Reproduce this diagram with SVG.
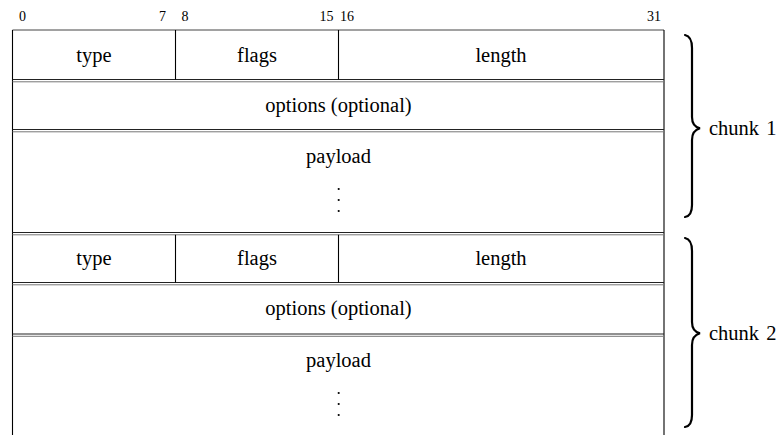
<svg xmlns="http://www.w3.org/2000/svg" width="783" height="435" viewBox="0 0 783 435">
  <style>
    .lbl { font-family: "Liberation Serif", "Times New Roman", serif; font-size: 20.5px; fill: #000; text-anchor: middle; }
    .bit { font-family: "Liberation Serif", "Times New Roman", serif; font-size: 14px; fill: #000; }
    .side { font-family: "Liberation Serif", "Times New Roman", serif; font-size: 20.5px; fill: #000; word-spacing: 2px; }
    .edge { stroke: #000; stroke-width: 1.1; fill: none; }
    .top { stroke: #444; stroke-width: 1; fill: none; }
    .sepA { stroke: #222; stroke-width: 1; fill: none; }
    .sepB { stroke: #777; stroke-width: 1; fill: none; }
    .brace { stroke: #000; stroke-width: 2.2; fill: none; stroke-linecap: round; }
  </style>
  <defs>
    <g id="vdots">
      <circle cx="0" cy="0" r="1.1" fill="#000"/>
      <circle cx="0" cy="11" r="1.1" fill="#000"/>
      <circle cx="0" cy="22" r="1.1" fill="#000"/>
    </g>
  </defs>
  <rect width="783" height="435" fill="#fff"/>

  <!-- bit positions -->
  <g id="bit-ruler">
    <text class="bit" x="19" y="21">0</text>
    <text class="bit" x="166" y="21" text-anchor="end">7</text>
    <text class="bit" x="181.5" y="21">8</text>
    <text class="bit" x="333.5" y="21" text-anchor="end">15</text>
    <text class="bit" x="340" y="21">16</text>
    <text class="bit" x="661" y="21" text-anchor="end">31</text>
  </g>

  <!-- outer frame -->
  <g id="frame">
    <line class="top" x1="12.5" y1="30" x2="664" y2="30"/>
    <line class="edge" x1="12.5" y1="30" x2="12.5" y2="435"/>
    <line class="edge" x1="664" y1="30" x2="664" y2="435"/>
  </g>

  <!-- row separators (double rules) -->
  <g id="separators">
    <line class="sepA" x1="12.5" y1="79.5" x2="664" y2="79.5"/>
    <line class="sepB" x1="12.5" y1="81.8" x2="664" y2="81.8"/>
    <line class="sepA" x1="12.5" y1="129.5" x2="664" y2="129.5"/>
    <line class="sepB" x1="12.5" y1="131.8" x2="664" y2="131.8"/>
    <line class="sepA" x1="12.5" y1="232.5" x2="664" y2="232.5"/>
    <line class="sepB" x1="12.5" y1="234.8" x2="664" y2="234.8"/>
    <line class="sepA" x1="12.5" y1="282.5" x2="664" y2="282.5"/>
    <line class="sepB" x1="12.5" y1="284.8" x2="664" y2="284.8"/>
    <line class="sepA" x1="12.5" y1="334" x2="664" y2="334"/>
    <line class="sepB" x1="12.5" y1="336.3" x2="664" y2="336.3"/>
  </g>

  <!-- chunk 1 -->
  <g id="c1-type">
    <line class="edge" x1="175.5" y1="30" x2="175.5" y2="79.5"/>
    <text class="lbl" x="94" y="62">type</text>
  </g>
  <g id="c1-flags">
    <line class="edge" x1="338.5" y1="30" x2="338.5" y2="79.5"/>
    <text class="lbl" x="257" y="62">flags</text>
  </g>
  <g id="c1-length">
    <text class="lbl" x="501" y="62">length</text>
  </g>
  <g id="c1-options">
    <text class="lbl" x="338.5" y="112">options (optional)</text>
  </g>
  <g id="c1-payload">
    <text class="lbl" x="338.5" y="163">payload</text>
    <use href="#vdots" x="338.7" y="189"/>
  </g>

  <!-- chunk 2 -->
  <g id="c2-type">
    <line class="edge" x1="175.5" y1="234.8" x2="175.5" y2="282.5"/>
    <text class="lbl" x="94" y="265">type</text>
  </g>
  <g id="c2-flags">
    <line class="edge" x1="338.5" y1="234.8" x2="338.5" y2="282.5"/>
    <text class="lbl" x="257" y="265">flags</text>
  </g>
  <g id="c2-length">
    <text class="lbl" x="501" y="265">length</text>
  </g>
  <g id="c2-options">
    <text class="lbl" x="338.5" y="315">options (optional)</text>
  </g>
  <g id="c2-payload">
    <text class="lbl" x="338.5" y="367">payload</text>
    <use href="#vdots" x="338.7" y="393"/>
  </g>

  <!-- braces grouping each chunk -->
  <g id="connectors">
    <path class="brace" d="M685,35 Q692,36.5 692,48 L692,117 Q692,126.5 700,128.3 Q692,130.5 692,140 L692,205 Q692,216 685,217"/>
    <path class="brace" d="M685,238 Q692,239.5 692,251 L692,322 Q692,331.5 700,333.3 Q692,335.5 692,345 L692,415 Q692,426 685,427"/>
  </g>
  <g id="chunk1-label">
    <text class="side" x="709" y="135">chunk 1</text>
  </g>
  <g id="chunk2-label">
    <text class="side" x="709" y="340">chunk 2</text>
  </g>
</svg>
